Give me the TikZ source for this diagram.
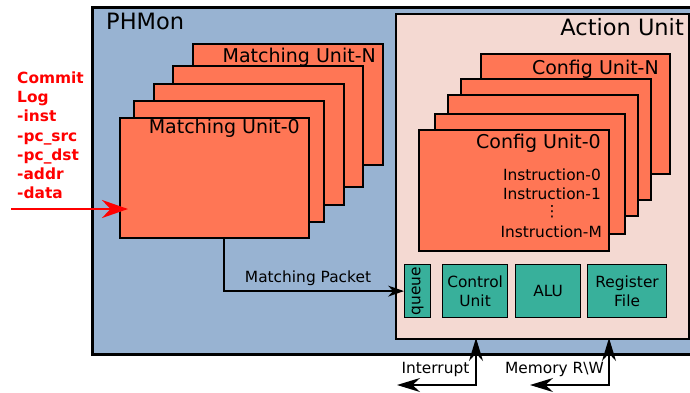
\documentclass[tikz,border=0pt]{standalone}
\usepackage{fontspec}
\setmainfont{DejaVu Sans}
\usetikzlibrary{arrows.meta}
\definecolor{phblue}{RGB}{152,179,210}
\definecolor{aupink}{RGB}{244,217,210}
\definecolor{unitorange}{RGB}{255,118,85}
\definecolor{tealbox}{RGB}{56,176,155}
\definecolor{logred}{RGB}{255,0,0}
\tikzset{
  unitbox/.style={draw=black, fill=unitorange, line width=1.5pt, anchor=north west, minimum width=190pt, minimum height=121pt, inner sep=0pt},
  smallbox/.style={draw=black, fill=tealbox, line width=1.2pt, anchor=north west, minimum height=53pt, inner sep=0pt, align=center, font=\fontsize{15.4}{19}\selectfont},
  bigtxt/.style={inner sep=0pt, font=\fontsize{22.5}{27}\selectfont},
  medtxt/.style={inner sep=0pt, font=\fontsize{19}{23}\selectfont, anchor=base east},
  smalltxt/.style={inner sep=0pt, font=\fontsize{15.4}{19}\selectfont},
  conn/.style={draw=black, line width=1.3pt},
}
\begin{document}
\begin{tikzpicture}[x=1pt,y=-1pt]
\useasboundingbox (0,0) rectangle (690,392);
% PHMon container
\node[draw=black, fill=phblue, line width=2.5pt, anchor=north west, minimum width=610pt, minimum height=347pt, inner sep=0pt] (ph) at (91,6) {};
\node[bigtxt, anchor=base west] (phlbl) at (106,29) {PHMon};
% Action unit
\node[draw=black, fill=aupink, line width=2pt, anchor=north west, minimum width=293pt, minimum height=325pt, inner sep=0pt] (au) at (395,13) {};
\node[bigtxt, anchor=base east] (aulbl) at (684,35) {Action Unit};
% Matching units
\node[unitbox] (mN) at (192,43) {};
\node[unitbox] (m3) at (172,65) {};
\node[unitbox] (m2) at (153,83) {};
\node[unitbox] (m1) at (133,100) {};
\node[unitbox, minimum width=189pt, minimum height=120pt] (m0) at (119,117) {};
\node[medtxt] (mNlbl) at (376,62) {Matching Unit-N};
\node[medtxt] (m0lbl) at (300,133) {Matching Unit-0};
% Config units
\node[unitbox, minimum width=189pt, minimum height=120pt] (cN) at (480,53) {};
\node[unitbox] (c3) at (460,78) {};
\node[unitbox] (c2) at (447,94) {};
\node[unitbox, minimum height=120pt] (c1) at (434,113) {};
\node[unitbox] (c0) at (418,129) {};
\node[medtxt] (cNlbl) at (659,74) {Config Unit-N};
\node[medtxt] (c0lbl) at (601,148) {Config Unit-0};
\node[smalltxt, anchor=base east] (i0) at (601,180) {Instruction-0};
\node[smalltxt, anchor=base east] (i1) at (601,199) {Instruction-1};
\node[smalltxt] (idots) at (552,212) {⋮};
\node[smalltxt, anchor=base east] (iM) at (602,237) {Instruction-M};
% Bottom boxes
\node[smallbox, minimum width=26pt] (queue) at (404,264) {};
\node[smalltxt, rotate=90] (qlbl) at (queue.center) {queue};
\node[smallbox, minimum width=65pt] (cu) at (442,264) {Control\\Unit};
\node[smallbox, minimum width=65pt] (alu) at (515,264) {ALU};
\node[smallbox, minimum width=79pt] (rf) at (587,264) {Register\\File};
% Matching packet
\coordinate (mpstart) at (224,237);
\draw[conn, -{Stealth[length=16pt,width=11pt]}] (mpstart) |- (queue.west);
\node[smalltxt, anchor=base] (mplbl) at (308,282) {Matching Packet};
% Commit log
\node[inner sep=0pt, anchor=north west, align=left, text=logred, font=\bfseries\fontsize{15.4}{19.2}\selectfont] (log) at (17,71.5) {Commit\\Log\\-inst\\-pc\_src\\-pc\_dst\\-addr\\-data};
\coordinate (logstart) at (11,209);
\coordinate (logend) at (128,209);
\draw[draw=logred, line width=2pt, -{Stealth[length=26pt,width=18pt,fill=logred]}] (logstart) -- (logend);
% Interrupt / Memory
\coordinate (intend) at (397,385);
\coordinate (memend) at (530,385);
\coordinate (intup) at (476,338);
\coordinate (memup) at (609,338);
\draw[conn, {Stealth[length=23pt,width=14pt]}-{Stealth[length=23pt,width=14pt]}] (intup) |- (intend);
\draw[conn, {Stealth[length=23pt,width=14pt]}-{Stealth[length=23pt,width=14pt]}] (memup) |- (memend);
\node[smalltxt, anchor=base] (intlbl) at (435.5,373) {Interrupt};
\node[smalltxt, anchor=base] (memlbl) at (554.5,373) {Memory R\textbackslash W};
\end{tikzpicture}
\end{document}
